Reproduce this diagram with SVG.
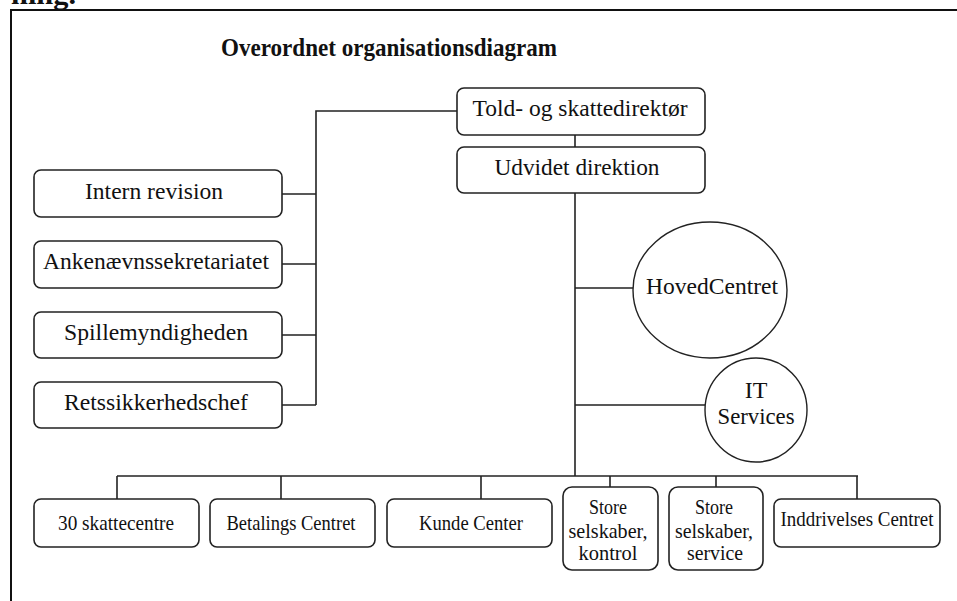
<svg xmlns="http://www.w3.org/2000/svg" width="957" height="601" viewBox="0 0 957 601">
<style>
text{font-family:"Liberation Serif","Times New Roman",serif;fill:#111;}
.t{font-size:24px;text-anchor:middle;}
.s{font-size:21px;text-anchor:middle;}
.box{fill:#fff;stroke:#222;stroke-width:1.6;}
.ell{fill:#fff;stroke:#222;stroke-width:1.4;}
.ln{fill:none;stroke:#222;stroke-width:1.6;}
</style>
<rect x="0" y="0" width="957" height="601" fill="#fff"/>
<text x="11" y="4" style="font-size:28px;font-weight:bold" textLength="65" lengthAdjust="spacingAndGlyphs">ning.</text>
<path d="M11,601 V10 H957" fill="none" stroke="#111" stroke-width="2"/>
<text x="221" y="56" style="font-size:26px;font-weight:bold" textLength="336" lengthAdjust="spacingAndGlyphs">Overordnet organisationsdiagram</text>

<g id="connectors" class="ln">
<path d="M457,111 H316 V405"/>
<path d="M282,194 H316 M282,264 H316 M282,335 H316 M282,405 H316"/>
<path d="M575,135 V147"/>
<path d="M575,193 V476"/>
<path d="M575,288 H633 M575,405 H705"/>
<path d="M117,476 H858"/>
<path d="M117,476 V499 M281,476 V499 M481,476 V499 M610,476 V487 M716,476 V487 M857,476 V499"/>
</g>

<g id="told">
<rect class="box" x="457" y="88" width="248" height="47" rx="7"/>
<text class="t" x="580" y="116" textLength="215" lengthAdjust="spacingAndGlyphs">Told- og skattedirektør</text>
</g>
<g id="udvidet">
<rect class="box" x="457" y="147" width="248" height="46" rx="7"/>
<text class="t" x="577" y="175" textLength="165" lengthAdjust="spacingAndGlyphs">Udvidet direktion</text>
</g>

<g id="intern">
<rect class="box" x="34" y="170" width="248" height="47" rx="7"/>
<text class="t" x="154" y="199" textLength="138" lengthAdjust="spacingAndGlyphs">Intern revision</text>
</g>
<g id="anken">
<rect class="box" x="34" y="241" width="248" height="47" rx="7"/>
<text class="t" x="156" y="269" textLength="226" lengthAdjust="spacingAndGlyphs">Ankenævnssekretariatet</text>
</g>
<g id="spille">
<rect class="box" x="34" y="312" width="248" height="46" rx="7"/>
<text class="t" x="156" y="340" textLength="184" lengthAdjust="spacingAndGlyphs">Spillemyndigheden</text>
</g>
<g id="retssik">
<rect class="box" x="34" y="382" width="248" height="46" rx="7"/>
<text class="t" x="156" y="410" textLength="184" lengthAdjust="spacingAndGlyphs">Retssikkerhedschef</text>
</g>

<g id="hovedcentret">
<ellipse class="ell" cx="710" cy="290" rx="77" ry="68"/>
<text class="t" x="712" y="294" textLength="132" lengthAdjust="spacingAndGlyphs">HovedCentret</text>
</g>
<g id="itservices">
<ellipse class="ell" cx="756" cy="410" rx="51" ry="52"/>
<text class="t" x="756" y="398">IT</text>
<text class="t" x="756" y="424" textLength="77" lengthAdjust="spacingAndGlyphs">Services</text>
</g>

<g id="skattecentre">
<rect class="box" x="34" y="499" width="165" height="48" rx="7"/>
<text class="s" x="116" y="530" textLength="116" lengthAdjust="spacingAndGlyphs">30 skattecentre</text>
</g>
<g id="betalings">
<rect class="box" x="210" y="499" width="165" height="48" rx="7"/>
<text class="s" x="291" y="530" textLength="129" lengthAdjust="spacingAndGlyphs">Betalings Centret</text>
</g>
<g id="kunde">
<rect class="box" x="387" y="499" width="165" height="48" rx="7"/>
<text class="s" x="471" y="530" textLength="104" lengthAdjust="spacingAndGlyphs">Kunde Center</text>
</g>
<g id="kontrol">
<rect class="box" x="563" y="487" width="95" height="83" rx="9"/>
<text class="s" x="608" y="514" textLength="38" lengthAdjust="spacingAndGlyphs">Store</text>
<text class="s" x="608" y="538" textLength="79" lengthAdjust="spacingAndGlyphs">selskaber,</text>
<text class="s" x="608" y="560" textLength="59" lengthAdjust="spacingAndGlyphs">kontrol</text>
</g>
<g id="service">
<rect class="box" x="669" y="487" width="94" height="83" rx="9"/>
<text class="s" x="714" y="514" textLength="38" lengthAdjust="spacingAndGlyphs">Store</text>
<text class="s" x="714" y="538" textLength="78" lengthAdjust="spacingAndGlyphs">selskaber,</text>
<text class="s" x="715" y="560" textLength="56" lengthAdjust="spacingAndGlyphs">service</text>
</g>
<g id="inddrivelses">
<rect class="box" x="774" y="499" width="166" height="48" rx="7"/>
<text class="s" x="857" y="526" textLength="153" lengthAdjust="spacingAndGlyphs">Inddrivelses Centret</text>
</g>
</svg>
